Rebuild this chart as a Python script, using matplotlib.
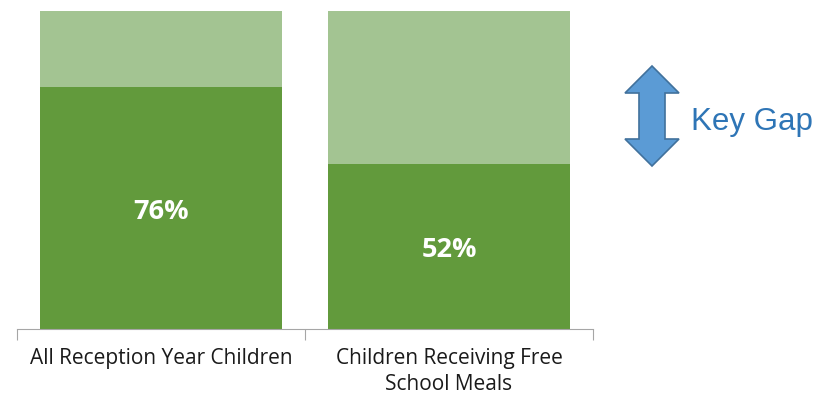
import matplotlib.pyplot as plt
from matplotlib.patches import Polygon

# share of children reaching the level, per group
groups = ["All Reception Year Children", "Children Receiving Free\nSchool Meals"]
achieved = [76, 52]
total = [100, 100]

dark_green = "#629A3C"
light_green = "#A3C492"

fig = plt.figure(figsize=(8.18, 3.96), dpi=100)
ax = fig.add_axes([17 / 818, 67 / 396, 576 / 818, 318 / 396])

x = range(len(groups))
gap = [t - a for t, a in zip(total, achieved)]
ax.bar(x, achieved, width=0.837, color=dark_green, edgecolor="none")
ax.bar(x, gap, bottom=achieved, width=0.837, color=light_green, edgecolor="none")

for i, v in enumerate(achieved):
    ax.text(i, v / 2 - 1.2, f"{v}%", ha="center", va="center", color="white",
            fontsize=19.5, fontweight="bold", family="Open Sans")

ax.set_xlim(-0.5, 1.5)
ax.set_ylim(0, 100)
ax.set_yticks([])
for s in ["top", "right", "left"]:
    ax.spines[s].set_visible(False)
ax.spines["bottom"].set_color("#A6A6A6")
ax.set_xticks([-0.5, 0.5, 1.5])
ax.set_xticklabels([])
ax.tick_params(axis="x", length=8, color="#A6A6A6", direction="out")
for i, g in enumerate(groups):
    ax.text(i, -6.0, g, ha="center", va="top", fontsize=15, family="Open Sans",
            color="#1a1a1a", linespacing=1.33, clip_on=False)

# double-headed arrow beside the bars
cx, top, bot = 652, 66, 166
hw, sw, hl = 27, 13, 27
pts = [(cx, top), (cx + hw, top + hl), (cx + sw, top + hl), (cx + sw, bot - hl),
       (cx + hw, bot - hl), (cx, bot), (cx - hw, bot - hl), (cx - sw, bot - hl),
       (cx - sw, top + hl), (cx - hw, top + hl)]
pts = [(px / 818, 1 - py / 396) for px, py in pts]
fig.patches.append(Polygon(pts, closed=True, facecolor="#5B9BD5", edgecolor="#41719C",
                           linewidth=1.2, transform=fig.transFigure))
fig.text(691 / 818, 1 - 122 / 396, "Key Gap", color="#2E75B6", fontsize=22.5,
         family="Liberation Sans", ha="left", va="center")

fig.savefig("out.png", dpi=100)
